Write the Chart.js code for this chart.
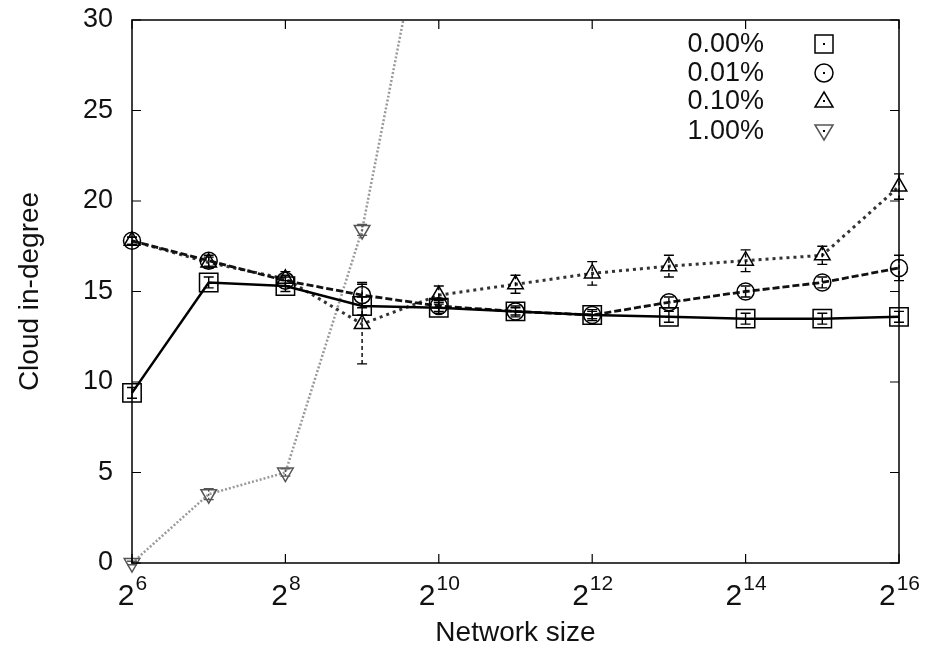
<!DOCTYPE html>
<html lang="en">
<head>
<meta charset="UTF-8">
<title>Cloud in-degree vs network size</title>
<script src="https://cdn.jsdelivr.net/npm/chart.js"></script>
<style>
  html, body { margin: 0; padding: 0; background: #fff; }
  #wrap { width: 925px; height: 652px; position: relative; }
</style>
</head>
<body>
<div id="wrap"><canvas id="chart"></canvas></div>
<script>
// network size exponents (2^n)
const exps = [6, 7, 8, 9, 10, 11, 12, 13, 14, 15, 16];
const labels = ['0.00%', '0.01%', '0.10%', '1.00%'];

const p000 = [9.4, 15.5, 15.3, 14.2, 14.1, 13.9, 13.7, 13.6, 13.5, 13.5, 13.6];
const p001 = [17.8, 16.7, 15.6, 14.8, 14.2, 13.9, 13.7, 14.4, 15.0, 15.5, 16.3];
const p010 = [17.8, 16.6, 15.7, 13.2, 14.8, 15.4, 16.0, 16.4, 16.7, 17.0, 20.8];
const p100 = [0.0, 3.8, 5.0, 18.4, 40.0];

// error bar half-widths
const e000 = [0.3, 0.3, 0.3, 0.5, 0.3, 0.3, 0.3, 0.3, 0.3, 0.3, 0.3];
const e001 = [0.2, 0.3, 0.3, 0.7, 0.3, 0.2, 0.2, 0.3, 0.3, 0.3, 0.7];
const e010 = [0.2, 0.3, 0.4, 2.2, 0.5, 0.5, 0.65, 0.6, 0.6, 0.5, 0.7];
const e100 = [0.1, 0.3, 0.2, 0.3, 0];

const yTicks = [0, 5, 10, 15, 20, 25, 30];

const FONT = '"Liberation Sans", Arial, Helvetica, sans-serif';

function pts(ys) { return ys.map((y, i) => ({ x: exps[i], y: y })); }

const series = [
  { data: p000, err: e000, color: '#000', dash: [], width: 2.5, style: 'rect', r: 13, rot: 0, errDash: [] },
  { data: p001, err: e001, color: '#111', dash: [7, 3], width: 2.8, style: 'circle', r: 8.5, rot: 0, errDash: [4, 2] },
  { data: p010, err: e010, color: '#333', dash: [3, 4], width: 3, style: 'triangle', r: 9, rot: 0, errDash: [4, 3] },
  { data: p100, err: e100, color: '#999', dash: [2, 2], width: 2.5, style: 'triangle', r: 9, rot: 180, errDash: [2, 2] }
];

const datasets = series.map((s, i) => ({
  label: labels[i],
  data: pts(s.data),
  borderColor: s.color,
  borderWidth: s.width,
  borderDash: s.dash,
  pointStyle: s.style,
  pointRadius: s.r,
  pointRotation: s.rot,
  pointBorderColor: i === 3 ? '#555' : '#000',
  pointBackgroundColor: 'rgba(0,0,0,0)',
  pointBorderWidth: 1.5,
  tension: 0,
  clip: { left: 20, right: 20, top: 0, bottom: 20 }
}));

// frame, inward ticks, x labels with superscripts, error bars, legend
const decor = {
  id: 'decor',
  afterDatasetsDraw(chart) {
    const ctx = chart.ctx, a = chart.chartArea;
    const xs = chart.scales.x, ys = chart.scales.y;
    ctx.save();
    // error bars
    series.forEach((s, i) => {
      ctx.strokeStyle = i === 3 ? '#555' : '#000';
      ctx.lineWidth = 1.4;
      s.data.forEach((v, j) => {
        if (!s.err[j] || v > 30) return;
        const px = xs.getPixelForValue(exps[j]);
        const y1 = ys.getPixelForValue(v - s.err[j]);
        const y2 = ys.getPixelForValue(v + s.err[j]);
        ctx.setLineDash(s.errDash);
        ctx.beginPath(); ctx.moveTo(px, y1); ctx.lineTo(px, y2); ctx.stroke();
        ctx.setLineDash([]);
        ctx.beginPath();
        ctx.moveTo(px - 5, y1); ctx.lineTo(px + 5, y1);
        ctx.moveTo(px - 5, y2); ctx.lineTo(px + 5, y2);
        ctx.stroke();
      });
    });
    // frame
    ctx.setLineDash([]);
    ctx.strokeStyle = '#000';
    ctx.lineWidth = 1.5;
    ctx.strokeRect(a.left, a.top, a.right - a.left, a.bottom - a.top);
    ctx.lineWidth = 1.2;
    ctx.beginPath();
    ys.ticks.forEach(t => {
      const py = ys.getPixelForValue(t.value);
      ctx.moveTo(a.left, py); ctx.lineTo(a.left + 9, py);
      ctx.moveTo(a.right, py); ctx.lineTo(a.right - 9, py);
    });
    xs.ticks.forEach(t => {
      const px = xs.getPixelForValue(t.value);
      ctx.moveTo(px, a.bottom); ctx.lineTo(px, a.bottom - 9);
      ctx.moveTo(px, a.top); ctx.lineTo(px, a.top + 9);
    });
    ctx.stroke();
    // x tick labels 2^n
    ctx.fillStyle = '#111';
    ctx.textBaseline = 'alphabetic';
    ctx.textAlign = 'left';
    xs.ticks.forEach(t => {
      const px = xs.getPixelForValue(t.value);
      const exp = String(t.value);
      ctx.font = '30px ' + FONT;
      const wb = ctx.measureText('2').width;
      ctx.font = '21px ' + FONT;
      const we = ctx.measureText(exp).width;
      const x0 = px - (wb + we) / 2;
      ctx.font = '30px ' + FONT;
      ctx.fillText('2', x0, a.bottom + 42);
      ctx.font = '21px ' + FONT;
      ctx.fillText(exp, x0 + wb + 1, a.bottom + 27);
    });
    // legend
    const rows = [44, 73, 101, 131];
    labels.forEach((lab, i) => {
      const y = rows[i];
      ctx.font = '27px ' + FONT;
      ctx.textAlign = 'right';
      ctx.textBaseline = 'middle';
      ctx.fillStyle = '#111';
      ctx.fillText(lab, 764, y + 1);
      const cx = 824;
      ctx.strokeStyle = i === 3 ? '#555' : '#000';
      ctx.lineWidth = 1.5;
      ctx.beginPath();
      if (i === 0) ctx.rect(cx - 9, y - 9, 18, 18);
      else if (i === 1) ctx.arc(cx, y, 9, 0, Math.PI * 2);
      else if (i === 2) { ctx.moveTo(cx, y - 9); ctx.lineTo(cx + 9, y + 6); ctx.lineTo(cx - 9, y + 6); ctx.closePath(); }
      else { ctx.moveTo(cx, y + 9); ctx.lineTo(cx + 9, y - 6); ctx.lineTo(cx - 9, y - 6); ctx.closePath(); }
      ctx.stroke();
      ctx.fillStyle = '#000';
      ctx.fillRect(cx - 1, y - 1, 2, 2);
    });
    ctx.restore();
  }
};

new Chart(document.getElementById('chart'), {
  type: 'line',
  data: { datasets },
  options: {
    responsive: true,
    maintainAspectRatio: false,
    animation: false,
    layout: { padding: { left: 0, right: 26, top: 20, bottom: 0 } },
    plugins: { legend: { display: false }, tooltip: { enabled: false } },
    scales: {
      x: {
        type: 'linear', min: 6, max: 16,
        ticks: { stepSize: 2, display: false },
        grid: { display: false, drawTicks: false, tickLength: 0 },
        border: { display: false },
        title: { display: true, text: 'Network size', color: '#111', font: { size: 28, family: FONT }, padding: { top: 0, bottom: 2 } },
        afterFit(s) { s.height = 89; s.paddingLeft = 0; s.paddingRight = 0; }
      },
      y: {
        min: 0, max: 30,
        afterBuildTicks(s) { s.ticks = yTicks.map(v => ({ value: v })); },
        ticks: { color: '#111', font: { size: 27, family: FONT }, padding: 19 },
        grid: { display: false, drawTicks: false, tickLength: 0 },
        border: { display: false },
        title: { display: true, text: 'Cloud in-degree', color: '#111', font: { size: 28, family: FONT }, padding: { top: 13, bottom: 0 } },
        afterFit(s) { s.width = 132; s.paddingTop = 0; s.paddingBottom = 0; }
      }
    }
  },
  plugins: [decor]
});
</script>
</body>
</html>
